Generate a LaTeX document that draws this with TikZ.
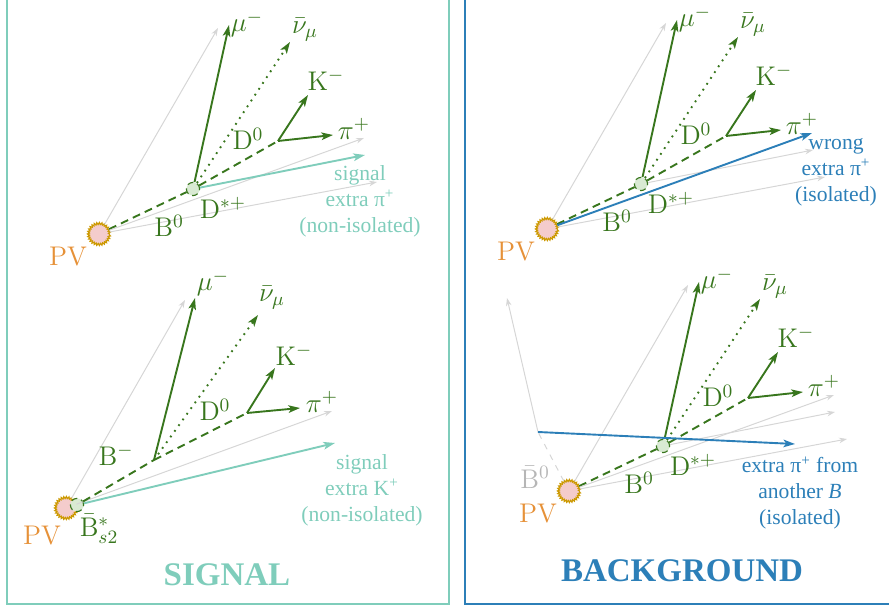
\RequirePackage{fix-cm}
\documentclass[tikz,border=0pt]{standalone}
\usepackage{fontspec}
\newfontfamily\annfont{Liberation Serif}
\usetikzlibrary{arrows.meta,decorations.pathmorphing}

\definecolor{decgreen}{RGB}{56,118,29}
\definecolor{vtxfill}{RGB}{217,234,211}
\definecolor{pvfill}{RGB}{244,204,204}
\definecolor{pvgold}{RGB}{204,153,0}
\definecolor{pvorange}{RGB}{230,145,56}
\definecolor{sigteal}{RGB}{127,205,187}
\definecolor{bkgblue}{RGB}{44,127,184}
\definecolor{trkgray}{RGB}{214,214,214}

\begin{document}
\begin{tikzpicture}[
  x=0.5pt, y=-0.5pt,
  trk/.style={draw=trkgray, line width=0.5pt, -{Stealth[length=4pt, width=2.8pt]}},
  gtrk/.style={draw=decgreen, line width=0.95pt, -{Stealth[length=5.8pt, width=3.8pt, inset=1.4pt]}},
  bdash/.style={draw=decgreen, line width=0.95pt, dash pattern=on 4pt off 2.6pt},
  nutrk/.style={gtrk, dash pattern=on 0.9pt off 2.6pt},
  sigtrk/.style={gtrk, draw=sigteal},
  bkgtrk/.style={gtrk, draw=bkgblue},
  vtx/.style={circle, minimum size=6.6pt, inner sep=0pt, fill=vtxfill,
    draw=decgreen, line width=0.55pt, densely dashed},
  pvtx/.style={circle, minimum size=10.5pt, inner sep=0pt, fill=pvfill,
    draw=pvgold, line width=0.6pt, decorate,
    decoration={zigzag, segment length=1.2pt, amplitude=0.5pt}},
  lbl/.style={text=decgreen, inner sep=0pt, font=\fontsize{13.5}{16}\selectfont},
  pvlbl/.style={lbl, text=pvorange},
  ann/.style={align=center, inner sep=0pt, font=\annfont\fontsize{10.8}{13}\selectfont},
  title/.style={inner sep=0pt, font=\annfont\bfseries\fontsize{16.5}{20}\selectfont},
]
\useasboundingbox (0,0) rectangle (889,608);
\draw[sigteal, line width=1.1pt] (7,-5) rectangle (449,604);
\draw[bkgblue, line width=1.1pt] (465,-5) rectangle (895,604);

% B0 -> D*+ mu nu chain, the same in three panels
\foreach \pnl/\sx/\sy in {a/99/234, c/547/229, d/569/491} {
\begin{scope}[shift={(\sx,\sy)}]
  \node[pvtx] (pv\pnl) at (0,0) {};
  \node[vtx] (dst\pnl) at (94,-45) {};
  \coordinate (dz\pnl) at (179,-93);
  \coordinate (k\pnl) at (209,-139);
  \coordinate (pi\pnl) at (234,-99);
  \coordinate (mu\pnl) at (130,-209);
  \coordinate (nu\pnl) at (191,-192);
  \coordinate (gup\pnl) at (119,-206);
  \coordinate (glo\pnl) at (278,-52);
  \coordinate (gmid\pnl) at (265,-96);
  \coordinate (soft\pnl) at (266,-79);
  \draw[trk] (pv\pnl) -- (gup\pnl);
  \draw[trk] (pv\pnl) -- (glo\pnl);
  \draw[bdash] (pv\pnl) -- (dst\pnl);
  \draw[bdash] (dst\pnl) -- (dz\pnl);
  \draw[gtrk] (dz\pnl) -- (k\pnl);
  \draw[gtrk] (dz\pnl) -- (pi\pnl);
  \draw[gtrk] (dst\pnl) -- (mu\pnl);
  \draw[nutrk] (dst\pnl) -- (nu\pnl);
  \node[lbl] (lmu\pnl) at (148,-210) {$\mu^-$};
  \node[lbl] (lnu\pnl) at (206,-204) {$\bar{\nu}_\mu$};
  \node[lbl] (lk\pnl) at (227,-154) {$\mathrm{K}^-$};
  \node[lbl] (lpi\pnl) at (255,-105) {$\pi^+$};
  \node[lbl] (ldz\pnl) at (149,-95) {$\mathrm{D}^0$};
  \node[lbl] (ldst\pnl) at (124,-26) {$\mathrm{D}^{*+}$};
  \node[lbl] (lb\pnl) at (70,-8) {$\mathrm{B}^0$};
  \node[pvlbl] (lpv\pnl) at (-31,23) {PV};
\end{scope}
}

% signal: extra pi+ from the D*+
\draw[trk] (pva) -- (gmida);
\draw[sigtrk] (dsta) -- (softa);
\node[ann, text=sigteal] (anna) at (360,201) {signal\\extra π\textsuperscript{+}\\(non-isolated)};

% signal: extra K+ from the B_s2
\node[pvtx] (pvb) at (66,508) {};
\node[vtx] (bsb) at (77,505) {};
\coordinate (bmb) at (154,460);
\coordinate (dzb) at (247,413);
\coordinate (kb) at (275,368);
\coordinate (pib) at (300,408);
\coordinate (mub) at (195,298);
\coordinate (nub) at (258,315);
\coordinate (gupb) at (185,300);
\coordinate (gmidb) at (332,411);
\coordinate (kextb) at (335,443);
\draw[trk] (pvb) -- (gupb);
\draw[trk] (pvb) -- (gmidb);
\draw[bdash] (bsb) -- (bmb);
\draw[bdash] (bmb) -- (dzb);
\draw[gtrk] (dzb) -- (kb);
\draw[gtrk] (dzb) -- (pib);
\draw[gtrk] (bmb) -- (mub);
\draw[nutrk] (bmb) -- (nub);
\draw[sigtrk] (bsb) -- (kextb);
\node[lbl] (lmub) at (213,283) {$\mu^-$};
\node[lbl] (lnub) at (272,298) {$\bar{\nu}_\mu$};
\node[lbl] (lkb) at (294,355) {$\mathrm{K}^-$};
\node[lbl] (lpib) at (322,402) {$\pi^+$};
\node[lbl] (ldzb) at (215,410) {$\mathrm{D}^0$};
\node[lbl] (lbmb) at (116,455) {$\mathrm{B}^-$};
\node[lbl] (lbsb) at (99,529) {$\bar{\mathrm{B}}^*_{s2}$};
\node[pvlbl] (lpvb) at (42,536) {PV};
\node[ann, text=sigteal] (annb) at (362,490) {signal\\extra K\textsuperscript{+}\\(non-isolated)};

% background: wrong pi+ from the PV
\draw[trk] (dstc) -- (softc);
\draw[bkgtrk] (pvc) -- (gmidc);
\node[ann, text=bkgblue] (annc) at (836,172) {wrong\\extra π\textsuperscript{+}\\(isolated)};

% background: pi+ from another B
\coordinate (bbar) at (538,432);
\coordinate (bbarup) at (507,298);
\coordinate (bbarpi) at (795,444);
\draw[trk] (pvd) -- (gmidd);
\draw[trk] (dstd) -- (softd);
\draw[trkgray, line width=0.5pt, dashed] (pvd) -- (bbar);
\draw[trk] (bbar) -- (bbarup);
\draw[bkgtrk] (bbar) -- (bbarpi);
\node[lbl, text=trkgray!85!black] (lbbar) at (535,477) {$\bar{\mathrm{B}}^0$};
\node[ann, text=bkgblue] (annd) at (800,493) {extra π\textsuperscript{+} from\\another \textit{B}\\(isolated)};

\node[title, text=sigteal] (tsig) at (227,575) {SIGNAL};
\node[title, text=bkgblue] (tbkg) at (682,571) {BACKGROUND};
\end{tikzpicture}
\end{document}
